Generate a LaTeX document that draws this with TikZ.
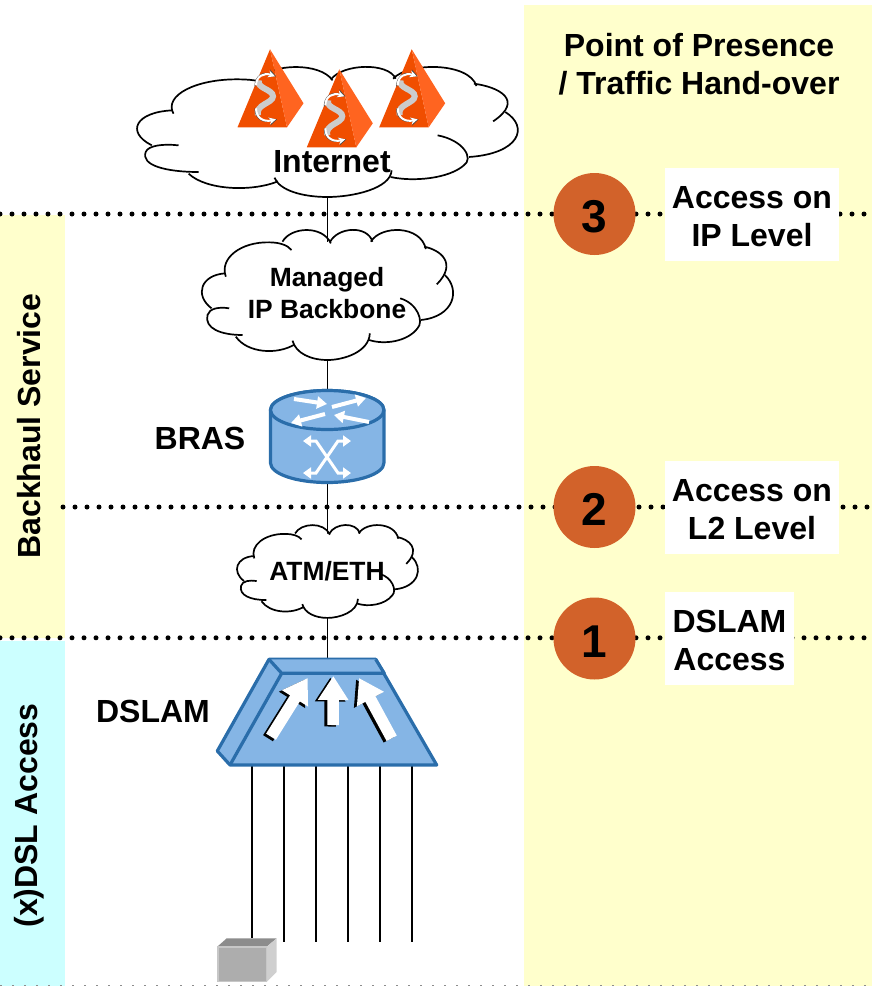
\documentclass[tikz,border=0pt]{standalone}
\usepackage{fontspec}
\setmainfont{Liberation Sans}
\usetikzlibrary{arrows.meta}
\definecolor{bandyellow}{HTML}{FFFFCC}
\definecolor{bandcyan}{HTML}{CCFFFF}
\definecolor{circleorange}{HTML}{D2622A}
\definecolor{boxblue}{HTML}{85B5E5}
\definecolor{boxedge}{HTML}{2A6DAA}
\definecolor{pyrdark}{HTML}{F04E00}
\definecolor{pyrlight}{HTML}{FF6420}
\tikzset{
  cloudshape/.pic={
    \begin{scope}[shift={(-410,-210)}]
    \fill[white] (100,120) -- (240,60) -- (340,30) -- (412,52) -- (480,30) -- (620,30) -- (700,80) -- (760,110) -- (780,220) -- (690,280) -- (650,340) -- (530,350) -- (410,403) -- (310,355) -- (160,360) -- (70,310) -- (50,210) -- cycle;
    \draw[line width=1.7pt] (105,155) .. controls (85,100) and (150,50) .. (235,52) .. controls (265,52) and (290,60) .. (302,75);
    \draw[line width=1.7pt] (275,50) .. controls (300,5) and (395,0) .. (420,55);
    \draw[line width=1.7pt] (417,52) .. controls (440,5) and (530,0) .. (545,50);
    \draw[line width=1.7pt] (540,50) .. controls (570,0) and (690,0) .. (705,72);
    \draw[line width=1.7pt] (700,65) .. controls (750,75) and (800,115) .. (738,178);
    \draw[line width=1.7pt] (762,150) .. controls (810,195) and (790,275) .. (690,285);
    \draw[line width=1.7pt] (628,220) .. controls (680,235) and (700,290) .. (680,310) .. controls (650,350) and (580,360) .. (535,345);
    \draw[line width=1.7pt] (537,325) .. controls (535,380) and (460,405) .. (410,405) .. controls (360,405) and (315,385) .. (305,347);
    \draw[line width=1.7pt] (312,358) .. controls (260,390) and (170,385) .. (135,335);
    \draw[line width=1.7pt] (155,330) .. controls (90,330) and (40,310) .. (50,270) .. controls (55,250) and (85,245) .. (115,250);
    \draw[line width=1.7pt] (62,250) .. controls (10,210) and (30,150) .. (103,145);
    \end{scope}
  },
  pyramid/.pic={
    \fill[pyrdark] (0,0) -- (-32.5,78) -- (17,78) -- cycle;
    \fill[pyrlight] (0,0) -- (17,78) -- (33.5,54) -- cycle;
    \draw[line width=6pt,black!20] (-11,31) .. controls (-14,39) and (3,40) .. (3,47) .. controls (3,54) and (-15,55) .. (-12,66);
    \draw[line width=1.1pt,black!70,-{Stealth[length=8pt,width=8pt]}] (-15,37) .. controls (-15,26) and (-6,22) .. (6,27);
    \draw[line width=2pt,white,-{Stealth[length=7pt,width=7pt]}] (-14,36) .. controls (-14,27) and (-6,23) .. (5,27);
    \draw[line width=1.1pt,black!70,-{Stealth[length=8pt,width=8pt]}] (-15,59) .. controls (-15,70) and (-6,74) .. (7,70);
    \draw[line width=2pt,white,-{Stealth[length=7pt,width=7pt]}] (-14,59) .. controls (-14,69) and (-6,73) .. (6,70);
  }
}
\begin{document}
\begin{tikzpicture}[x=1pt,y=-1pt]
\tikzstyle{label}=[font=\fontsize{32}{38.5}\selectfont\bfseries,align=center,inner sep=0pt]
\tikzstyle{smalllabel}=[font=\fontsize{26.4}{32}\selectfont\bfseries,align=center,inner sep=0pt]
\tikzstyle{level}=[circle,fill=circleorange,minimum size=82pt,inner sep=0pt,text height=37pt,text depth=0pt,font=\fontsize{46}{46}\selectfont\bfseries]
\tikzstyle{levelbox}=[fill=white,inner sep=0pt,minimum height=93pt]
\tikzstyle{dots}=[line width=5pt,line cap=round,dash pattern=on 0pt off 12pt]
\tikzstyle{edge}=[draw,line width=1.8pt]
\tikzstyle{device}=[draw=boxedge,line width=3.2pt,fill=boxblue,line join=round]
\tikzstyle{whitearrow}=[white,line width=4pt,-{Triangle[length=10pt,width=12pt]}]
\tikzstyle{crossarrow}=[white,line width=3pt,{Triangle[length=8pt,width=11pt]}-{Triangle[length=8pt,width=11pt]}]
\tikzstyle{bigarrow}=[line width=11.5pt,-{Triangle[length=24pt,width=29pt]}]
\useasboundingbox (0,0) rectangle (872,986);
% bands
\fill[bandyellow] (524,5) rectangle (872,986);
\fill[bandyellow] (0,215) rectangle (65,638);
\fill[bandcyan] (0,641) rectangle (65,986);
\draw[line width=1.6pt,black!45,dash pattern=on 2pt off 10pt] (0,985.4) -- (872,985.4);
\node[label,rotate=90] (backhaul) at (29.5,426) {Backhaul Service};
\node[label,rotate=90] (access) at (29.5,815.5) {(x)DSL Access};
% levels
\coordinate (l3a) at (0,214);
\coordinate (l3b) at (872,214);
\coordinate (l2a) at (63,507);
\coordinate (l2b) at (872,507);
\coordinate (l1a) at (0,637.8);
\coordinate (l1b) at (872,637.8);
\draw[dots] (l3a) -- (l3b);
\draw[dots] (l2a) -- (l2b);
\draw[dots] (l1a) -- (l1b);
% positions
\node[minimum width=384pt,minimum height=130pt,inner sep=0pt] (internet) at (327.5,132) {};
\node[minimum width=253pt,minimum height=130pt,inner sep=0pt] (backbone) at (327.5,295) {};
\node[minimum width=113pt,minimum height=94pt,inner sep=0pt] (bras) at (327.5,437) {};
\node[minimum width=183pt,minimum height=93pt,inner sep=0pt] (atm) at (327.5,571.5) {};
\node[minimum width=220pt,minimum height=106pt,inner sep=0pt] (dslam) at (327.5,712) {};
\node[minimum width=60pt,minimum height=44pt,inner sep=0pt] (cpe) at (247,960) {};
\path[edge] (internet.center) -- (backbone.center);
\path[edge] (backbone.center) -- (bras.center);
\path[edge] (bras.center) -- (atm.center);
\path[edge] (atm.center) -- (dslam.center);
% lines
\coordinate (p1) at (251.7,938);
\coordinate (p2) at (283.7,941.5);
\coordinate (p3) at (316,941.5);
\coordinate (p4) at (348,941.5);
\coordinate (p5) at (380.3,941.5);
\coordinate (p6) at (412.3,941.5);
\foreach \i in {1,...,6}
  \path[edge] (dslam.south -| p\i) -- (p\i);
% clouds
\pic[xscale=.505,yscale=.3333] at (internet) {cloudshape};
\pic[xscale=.3333,yscale=.3333] at (backbone) {cloudshape};
\pic[xscale=.24,yscale=.238] at (atm) {cloudshape};
\pic at (270,49.3) {pyramid};
\pic at (339.3,69.3) {pyramid};
\pic at (411.7,49.3) {pyramid};
\node[label] (internettext) at (332,162) {Internet};
\node[smalllabel] (backbonetext) at (327,293) {Managed\\IP Backbone};
\node[smalllabel] (atmtext) at (327,571.5) {ATM/ETH};
% router
\draw[device] (270.5,410) -- (270.5,463) arc[start angle=180,end angle=360,x radius=56.7,y radius=-19.5] -- (383.9,410) arc[start angle=0,end angle=180,x radius=56.7,y radius=-19.5] -- cycle;
\draw[device] (327.2,410) ellipse[x radius=56.7,y radius=19.5];
\draw[whitearrow] (294,399) -- (327,404);
\draw[whitearrow] (332,407) -- (366,398);
\draw[whitearrow] (325,414) -- (291,423);
\draw[whitearrow] (369,422) -- (334,415);
\draw[crossarrow] (303,441) -- (316,441) -- (338,473) -- (351,473);
\draw[crossarrow] (351,441) -- (338,441) -- (316,473) -- (303,473);
\node[label] (brastext) at (200,438.5) {BRAS};
% dslam
\draw[device] (269,659.3) -- (375.7,659.3) -- (436.7,765) -- (230,765) -- (217.3,751) -- cycle;
\draw[device] (375.7,659.3) -- (384.3,673.3) -- (281.7,673.3) -- (269,659.3);
\draw[device] (281.7,673.3) -- (230,765);
\foreach \a/\b/\c/\d in {271/736.7/307.7/678,333/725/333.3/676,391.7/738.3/359/678} {
  \draw[bigarrow,black] (\a-3,\b+1.5) -- (\c-3,\d+1.5);
  \draw[bigarrow,white] (\a,\b) -- (\c,\d);
}
\node[label] (dslamtext) at (153,711.5) {DSLAM};
% cpe
\fill[black!45] (217.3,946.7) -- (226.7,938.3) -- (276.7,938.3) -- (266.7,946.7) -- cycle;
\fill[black!19] (266.7,946.7) -- (276.7,938.3) -- (276.7,972) -- (266.7,982) -- cycle;
\fill[black!32,draw=black!22,line width=1.5pt] (217.8,947) rectangle (266.7,981.5);
% right column
\node[label] (presence) at (699,64) {Point of Presence\\/ Traffic Hand-over};
\node[level] (three) at (594.5,214) {3};
\node[level] (two) at (594.5,507) {2};
\node[level] (one) at (594.5,638.5) {1};
\node[levelbox,minimum width=174pt] (ipbox) at (752,214.5) {};
\node[levelbox,minimum width=174pt] (l2box) at (752,507.5) {};
\node[levelbox,minimum width=129pt] (dslambox) at (729.5,638.5) {};
\node[label] (iptext) at (752,216.5) {Access on\\IP Level};
\node[label] (l2text) at (752,509.5) {Access on\\L2 Level};
\node[label] (dslamaccess) at (729.5,640.5) {DSLAM\\Access};
\end{tikzpicture}
\end{document}
